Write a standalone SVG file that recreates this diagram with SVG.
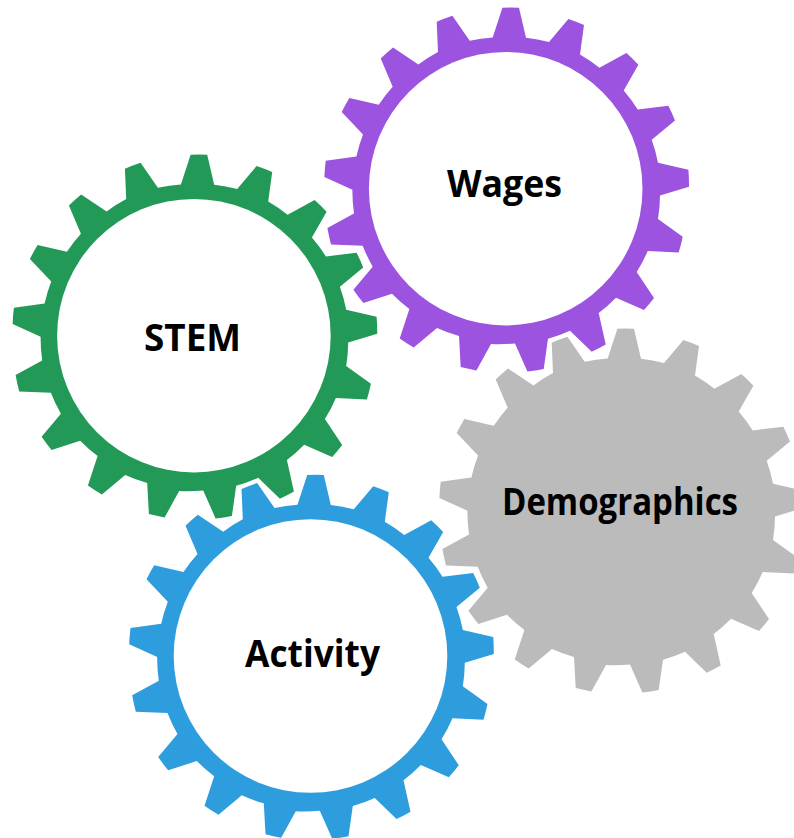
<svg xmlns="http://www.w3.org/2000/svg" xmlns:xlink="http://www.w3.org/1999/xlink" width="794" height="838" viewBox="0 0 794 838">
<style>
.lbl{font-family:"Open Sans","Lato","Liberation Sans",sans-serif;font-weight:700;font-size:37.5px;fill:#000;text-anchor:start}
.hole{fill:#fff}
</style>
<defs>
<path id="gear" d="M-13-151.3L-3.3-181A181 181 0 0 1 13.3-181L20.3-151A152 152 0 0 1 43.3-146.7L62.7-169.7A181 181 0 0 1 78.3-163.7L74.3-134.3A152 152 0 0 1 93.7-121L120.7-135.7A181 181 0 0 1 132.7-124L118-98.3A152 152 0 0 1 132-79.3L162.7-83A181 181 0 0 1 169.3-68.3L146-49A152 152 0 0 1 152.3-26L182.7-19A183 183 0 0 1 183.3-2L154.3 6.7A152 152 0 0 1 152.3 30.3L177 48A181 181 0 0 1 173 63.7L142 62.3A152 152 0 0 1 131 83.3L148.3 109.3A181 181 0 0 1 138.3 121.3L110.3 109A152 152 0 0 1 93 124.3L100 155.7A181 181 0 0 1 86 163L64.3 142A152 152 0 0 1 42.3 150L38 180.3A181 181 0 0 1 21.7 182.7L9.3 154.7A155 155 0 0 1-14.7 155.3L-29.3 181.7A181 181 0 0 1-45 178.3L-46.7 147.3A152 152 0 0 1-68.7 139.3L-92 158.7A181 181 0 0 1-106 149.7L-96.3 120.3A152 152 0 0 1-113.7 105L-142.3 114.3A181 181 0 0 1-152.3 101L-133 78A152 152 0 0 1-143 57L-174.7 55.7A181 181 0 0 1-178.3 39.3L-151.7 24.7A152 152 0 0 1-153.3 1L-181.3-11.7A181 181 0 0 1-180-28L-149.3-32.3A152 152 0 0 1-142.7-54.3L-164-76.7A181 181 0 0 1-156.3-90.7L-127-84A152 152 0 0 1-113-102L-125-130.3A181 181 0 0 1-112.7-141.3L-87.3-124.3A152 152 0 0 1-67.7-136.7L-69-167A181 181 0 0 1-53.3-173L-36-148A152 152 0 0 1-13-151.3Z"/>
</defs>
<rect width="794" height="838" fill="#fff"/>
<g id="node-wages">
<use href="#gear" xlink:href="#gear" transform="translate(505.7 188.7)" fill="#9B53E0"/>
<circle class="hole" cx="505.7" cy="188.7" r="136.8"/>
<text class="lbl" x="447" y="197" textLength="115" lengthAdjust="spacingAndGlyphs">Wages</text>
</g>
<g id="node-stem">
<use href="#gear" xlink:href="#gear" transform="translate(193.9 335.7)" fill="#239957"/>
<circle class="hole" cx="193.9" cy="335.7" r="136.8"/>
<text class="lbl" x="144" y="351" textLength="97" lengthAdjust="spacingAndGlyphs">STEM</text>
</g>
<g id="node-demographics">
<use href="#gear" xlink:href="#gear" transform="translate(620.7 509.7)" fill="#BBBBBB"/>
<text class="lbl" x="502" y="515" textLength="236" lengthAdjust="spacingAndGlyphs">Demographics</text>
</g>
<g id="node-activity">
<use href="#gear" xlink:href="#gear" transform="translate(310.5 656)" fill="#2E9DDD"/>
<circle class="hole" cx="310.5" cy="656" r="136.8"/>
<text class="lbl" x="245" y="667" textLength="135" lengthAdjust="spacingAndGlyphs">Activity</text>
</g>
</svg>
